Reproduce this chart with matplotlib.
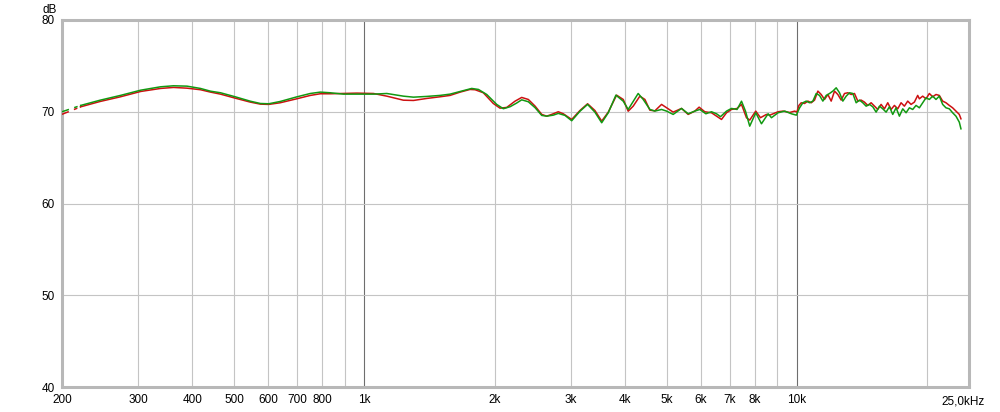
import matplotlib
matplotlib.use("Agg")
import matplotlib.pyplot as plt
from matplotlib.ticker import FixedLocator, NullLocator

# frequency response, two measurements (Hz, dB)
red_freq = [200, 221, 245, 273, 304, 338, 362, 389, 418, 441, 465, 503, 545, 575, 601, 639, 699, 750, 791, 834,
            895, 961, 1050, 1127, 1231, 1299, 1394, 1496, 1578, 1665, 1755, 1803, 1884, 1987, 2059, 2134, 2173,
            2230, 2311, 2394, 2482, 2571, 2640, 2711, 2808, 2884, 3016, 3152, 3282, 3412, 3538, 3664, 3830, 3968,
            4074, 4184, 4335, 4453, 4573, 4696, 4866, 4998, 5176, 5412, 5606, 5808, 5943, 6125, 6347, 6519, 6695,
            6876, 7060, 7274, 7447, 7646, 7780, 8034, 8238, 8504, 8657, 8844, 9048, 9290, 9626, 9886, 10000,
            10109, 10235, 10418, 10604, 10794, 10987, 11183, 11382, 11586, 11793, 12004, 12219, 12437, 12660,
            12886, 13117, 13351, 13589, 13832, 14079, 14331, 14587, 14848, 15113, 15383, 15658, 15938, 16223,
            16513, 16808, 17108, 17414, 17725, 18042, 18364, 18692, 19026, 19195, 19538, 19887, 20243, 20604,
            20972, 21347, 21729, 22117, 22512, 22914, 23323, 23740, 23951]
red_db = [69.72, 70.54, 71.12, 71.63, 72.21, 72.54, 72.65, 72.57, 72.40, 72.14, 71.92, 71.48, 71.05, 70.83, 70.80,
          70.98, 71.42, 71.78, 71.96, 71.96, 71.99, 72.03, 71.99, 71.70, 71.26, 71.23, 71.45, 71.63, 71.78, 72.14,
          72.43, 72.40, 72.07, 70.90, 70.39, 70.47, 70.75, 71.15, 71.56, 71.34, 70.61, 69.71, 69.52, 69.71, 70.00,
          69.78, 69.16, 70.14, 70.87, 70.14, 68.98, 69.96, 71.81, 71.34, 70.06, 70.61, 71.70, 71.34, 70.17, 70.10,
          70.80, 70.44, 69.96, 70.36, 69.71, 70.07, 70.50, 70.00, 69.89, 69.52, 69.16, 69.89, 70.25, 70.36, 70.80,
          69.35, 69.09, 70.07, 69.35, 69.71, 69.63, 69.81, 70.00, 70.07, 69.92, 70.07, 69.96, 70.69, 70.98, 70.90,
          71.16, 70.98, 71.27, 72.25, 71.88, 71.34, 71.88, 71.16, 72.25, 71.88, 71.27, 71.99, 72.07, 71.88, 71.99,
          71.16, 71.27, 71.05, 70.69, 70.98, 70.61, 70.25, 70.80, 70.32, 70.98, 70.25, 70.69, 70.32, 70.98, 70.61,
          71.16, 70.80, 71.05, 71.78, 71.41, 71.70, 71.41, 71.99, 71.63, 71.88, 71.78, 71.16, 70.98, 70.69, 70.43,
          70.07, 69.71, 69.23]

green_freq = [200, 221, 245, 273, 304, 338, 362, 389, 418, 441, 465, 503, 545, 575, 601, 639, 699, 750, 791, 834,
              895, 961, 1050, 1127, 1231, 1299, 1394, 1496, 1578, 1665, 1771, 1836, 1919, 2023, 2096, 2173, 2250,
              2311, 2394, 2482, 2571, 2640, 2735, 2808, 2910, 3016, 3152, 3282, 3412, 3538, 3664, 3816, 3968, 4074,
              4296, 4413, 4573, 4696, 4866, 4998, 5176, 5412, 5606, 5808, 5966, 6160, 6347, 6519, 6659, 6876, 7060,
              7274, 7447, 7606, 7780, 8034, 8282, 8580, 8734, 9048, 9374, 9712, 9972, 10145, 10326, 10511, 10699,
              10890, 11084, 11282, 11484, 11689, 11899, 12111, 12328, 12548, 12773, 13001, 13233, 13469, 13710,
              13955, 14205, 14458, 14717, 14980, 15247, 15520, 15797, 16080, 16367, 16659, 16957, 17260, 17569,
              17883, 18202, 18527, 18858, 19195, 19538, 19887, 20243, 20604, 20972, 21347, 21729, 22117, 22512,
              22914, 23323, 23740, 23951]
green_db = [70.00, 70.69, 71.26, 71.78, 72.35, 72.72, 72.83, 72.79, 72.54, 72.24, 72.07, 71.63, 71.15, 70.90, 70.87,
            71.12, 71.63, 71.99, 72.14, 72.07, 71.92, 71.92, 71.92, 71.99, 71.70, 71.59, 71.67, 71.78, 71.92, 72.21,
            72.54, 72.43, 71.88, 70.80, 70.33, 70.55, 70.95, 71.30, 71.09, 70.44, 69.60, 69.52, 69.63, 69.82, 69.60,
            69.02, 70.06, 70.80, 69.96, 68.80, 69.89, 71.81, 71.15, 70.25, 71.99, 71.34, 70.25, 70.07, 70.25, 70.07,
            69.71, 70.36, 69.78, 70.07, 70.25, 69.78, 70.00, 69.78, 69.46, 70.07, 70.36, 70.25, 71.15, 70.07, 68.43,
            69.89, 68.69, 69.78, 69.35, 69.89, 70.07, 69.78, 69.63, 70.43, 70.98, 71.16, 70.98, 71.16, 71.99, 71.78,
            71.16, 71.78, 71.99, 72.25, 72.61, 72.07, 71.16, 71.70, 72.07, 71.99, 70.98, 71.27, 70.98, 70.61, 70.80,
            70.54, 69.96, 70.61, 70.32, 69.96, 70.54, 69.71, 70.43, 69.52, 70.32, 69.89, 70.43, 70.25, 70.69, 70.43,
            70.98, 71.52, 71.34, 71.70, 71.34, 71.70, 70.80, 70.43, 70.32, 69.89, 69.52, 68.87, 68.14]

tick_freqs = [200, 300, 400, 500, 600, 700, 800, 1000, 2000, 3000, 4000, 5000, 6000, 7000, 8000, 10000]
tick_labels = ['200', '300', '400', '500', '600', '700', '800', '1k', '2k', '3k', '4k', '5k', '6k', '7k', '8k', '10k']
grid_freqs = [300, 400, 500, 600, 700, 800, 900, 2000, 3000, 4000, 5000, 6000, 7000, 8000, 9000, 20000]
y_ticks = [40, 50, 60, 70, 80]

plt.rcParams['font.family'] = ['Liberation Sans', 'DejaVu Sans']

fig = plt.figure(figsize=(10, 4.12), dpi=100)
ax = fig.add_axes([0.062, 1 - 387 / 412, 0.907, 367 / 412])
ax.set_xscale('log')
ax.set_xlim(200, 25000)
ax.set_ylim(40, 80)

# grid
for f in grid_freqs:
    ax.axvline(f, color='#c4c4c4', lw=0.8, zorder=1)
for f in [1000, 10000]:
    ax.axvline(f, color='#6e6e6e', lw=0.8, zorder=1)
for v in [50, 60, 70]:
    ax.axhline(v, color='#c4c4c4', lw=0.8, zorder=1)

red = '#cc1111'
green = '#119911'
# the first bit of each trace is drawn broken, like in the original
dash = (4.8, 3.6, 2.4, 1.7, 30, 1)
ax.plot(red_freq[:2], red_db[:2], color=red, lw=1.1, dashes=dash, zorder=3)
ax.plot(red_freq[1:], red_db[1:], color=red, lw=1.1, zorder=3)
ax.plot(green_freq[:2], green_db[:2], color=green, lw=1.1, dashes=dash, zorder=4)
ax.plot(green_freq[1:], green_db[1:], color=green, lw=1.1, zorder=4)

ax.xaxis.set_major_locator(FixedLocator(tick_freqs))
ax.xaxis.set_minor_locator(NullLocator())
ax.set_xticklabels(tick_labels)
ax.set_yticks(y_ticks)
ax.set_yticklabels([str(v) for v in y_ticks])
ax.tick_params(axis='both', length=0, labelsize=8.5, colors='black')
ax.tick_params(axis='x', pad=5)
ax.tick_params(axis='y', pad=5)

for s in ax.spines.values():
    s.set_color('#b8b8b8')
    s.set_linewidth(2.2)

ax.text(-0.0055, 1.012, 'dB', transform=ax.transAxes, ha='right', va='bottom', fontsize=8.5)
ax.text(1.0176, -0.022, '25,0kHz', transform=ax.transAxes, ha='right', va='top', fontsize=8.5)

fig.savefig('out.png', dpi=100, facecolor='white')
